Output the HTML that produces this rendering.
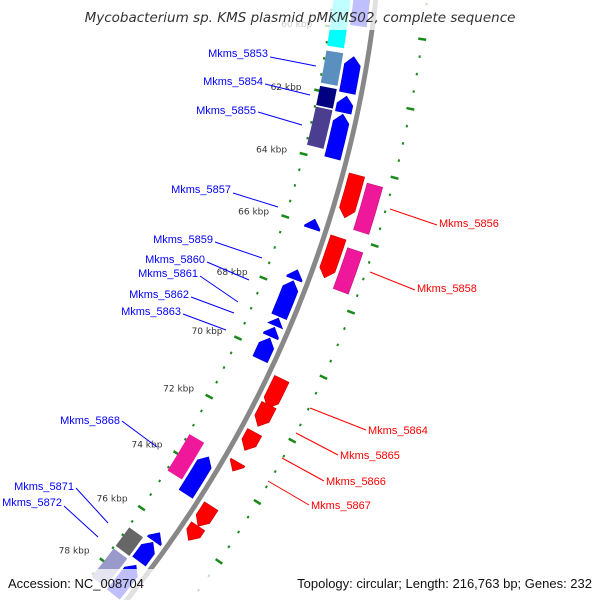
<!DOCTYPE html>
<html><head><meta charset="utf-8"><style>
html,body{margin:0;padding:0;background:#fff;overflow:hidden;}
svg{display:block;font-family:"DejaVu Sans","Liberation Sans",sans-serif;}
</style></head><body>
<svg id="map" width="600" height="600" viewBox="0 0 600 600" xmlns="http://www.w3.org/2000/svg">
<g id="layer"></g>
</svg>
<script>
// kbp-based feature data
const geneNames = ["top","Mkms_5853b","Mkms_5854","Mkms_5855","Mkms_5857","Mkms_5859","Mkms_5860","Mkms_5861","Mkms_5862","Mkms_5863","Mkms_5868","Mkms_5871","Mkms_5872","bottom"];
const innerStart = [58.3,60.8,62.0,62.55,65.8,67.4,67.75,68.95,69.25,69.6,73.6,76.3,76.65,77.5];
const innerEnd   = [59.87,61.9,62.5,63.9,66.1,67.7,68.9,69.2,69.55,70.3,74.9,76.6,77.35,78.6];
const ring2Start = [58.3,60.75,61.85,62.5,73.3,76.7,77.5];
const ring2End   = [60.6,61.75,62.45,63.7,74.6,77.4,78.6];
const ring2Color = ["#00ffff","#5a8fc0","#000080","#4b3d90","#f0189a","#666666","#9999cc"];
const redStart = [64.2,66.1,70.55,71.4,72.3,73.3,74.8,75.5];
const redEnd   = [65.5,67.35,71.5,72.1,72.9,73.6,75.5,76.0];
const pinkStart = [64.35,66.3];
const pinkEnd   = [65.75,67.55];
const tickKbp = [58,60,62,64,66,68,70,72,74,76,78];
const tickLabels = ["58 kbp","60 kbp","62 kbp","64 kbp","66 kbp","68 kbp","70 kbp","72 kbp","74 kbp","76 kbp","78 kbp"];

const CX=-785, CY=-130, R0=1168;
const NS="http://www.w3.org/2000/svg";
const layer=document.getElementById('layer');
function ang(k){return (11.3+(k-62)*1.661)*Math.PI/180;}
function pt(k,r){const a=ang(k);return [CX+r*Math.cos(a),CY+r*Math.sin(a)];}
function P(p){return p[0].toFixed(2)+" "+p[1].toFixed(2);}
function mk(tag,attrs){const e=document.createElementNS(NS,tag);for(const k in attrs)e.setAttribute(k,attrs[k]);layer.appendChild(e);return e;}
function feature(a,b,r1,r2,strand){
  const h=Math.min(0.25,b-a), m=(r1+r2)/2;
  if(strand>0){
    return "M"+P(pt(a,r2))+" A"+r2+" "+r2+" 0 0 1 "+P(pt(b-h,r2))+" L"+P(pt(b,m))+" L"+P(pt(b-h,r1))+" A"+r1+" "+r1+" 0 0 0 "+P(pt(a,r1))+"Z";
  } else if(strand<0){
    return "M"+P(pt(a,m))+" L"+P(pt(a+h,r2))+" A"+r2+" "+r2+" 0 0 1 "+P(pt(b,r2))+" L"+P(pt(b,r1))+" A"+r1+" "+r1+" 0 0 0 "+P(pt(a+h,r1))+"Z";
  }
  return "M"+P(pt(a,r2))+" A"+r2+" "+r2+" 0 0 1 "+P(pt(b,r2))+" L"+P(pt(b,r1))+" A"+r1+" "+r1+" 0 0 0 "+P(pt(a,r1))+"Z";
}
// backbone
const bb=mk('path',{d:"M"+P(pt(56,R0))+" A"+R0+" "+R0+" 0 0 1 "+P(pt(79.5,R0)),fill:"none",stroke:"#888",'stroke-width':5});


// tick rings
for(let k=56;k<=79.01;k+=0.5){
  const major=Math.abs(k-Math.round(k/2)*2)<1e-6;
  [1125,1219].forEach(r=>{
    const l=major?4:1;
    const p1=pt(k,r-l),p2=pt(k,r+l);
    const t=mk('line',{x1:p1[0],y1:p1[1],x2:p2[0],y2:p2[1],stroke:"#1a8a1a",'stroke-width':2.5});
    
    
  });
}
tickKbp.forEach((k,i)=>{
  const p=pt(k,1108);
  const t=mk('text',{x:p[0],y:p[1]+3,'text-anchor':'end','font-size':9,fill:'#333'});
  t.textContent=tickLabels[i];
  
  
});
innerStart.forEach((s,i)=>{
  const e=mk('path',{d:feature(s,innerEnd[i],R0-22,R0-6,-1),fill:"#0000ff",stroke:"#0000c8",'stroke-width':0.6});
  
  
});
ring2Start.forEach((s,i)=>{
  const e=mk('path',{d:feature(s,ring2End[i],R0-42,R0-25,0),fill:ring2Color[i]});
  
  
});
redStart.forEach((s,i)=>{
  const e=mk('path',{d:feature(s,redEnd[i],R0+6,R0+22,1),fill:"#ff0000",stroke:"#c80000",'stroke-width':0.6});
  
  
});
pinkStart.forEach((s,i)=>{
  const e=mk('path',{d:feature(s,pinkEnd[i],R0+26,R0+42,0),fill:"#f0189a",stroke:"#c0107a",'stroke-width':0.6});
  
  
});
const labText=["Mkms_5853","Mkms_5854","Mkms_5855","Mkms_5857","Mkms_5859","Mkms_5860","Mkms_5861","Mkms_5862","Mkms_5863","Mkms_5868","Mkms_5871","Mkms_5872","Mkms_5856","Mkms_5858","Mkms_5864","Mkms_5865","Mkms_5866","Mkms_5867"];
const labX=[268,263,256,231,213,205,198,189,181,120,74,62,439,417,368,340,326,311];
const labY=[57,85,114,193,243,263,277,298,315,424,490,506,227,292,434,459,485,509];
const lineA=[[270,57,316,66],[265,84,310,95],[258,112,302,125],[233,193,278,207],[215,242,262,258],[207,262,249,280],[200,276,238,302],[191,297,234,313],[183,314,226,330],[122,421,157,447],[76,488,108,523],[64,506,98,537],[437,225,390,209],[415,290,370,272],[366,430,310,408],[338,455,296,433],[324,481,282,458],[309,505,268,481]];
labText.forEach((s,i)=>{
  const red=i>=12;
  const c=red?"#ff0000":"#0000ff";
  const L=lineA[i];
  const ln=mk('line',{x1:L[0],y1:L[1],x2:L[2],y2:L[3],stroke:c,'stroke-width':1});
  
  
  const t=mk('text',{x:labX[i],y:labY[i],'text-anchor':red?'start':'end','font-size':11,fill:c,'font-family':'"Liberation Sans",sans-serif'});
  t.textContent=s;
  
  
});
const tb=mk('rect',{x:78,y:0,width:444,height:30,fill:"#fff",'fill-opacity':0.75});


const tt=mk('text',{x:300,y:22,'text-anchor':'middle','font-size':13.5,'font-style':'italic',fill:'#333'});
tt.textContent="Mycobacterium sp. KMS plasmid pMKMS02, complete sequence";


const fb=mk('rect',{x:0,y:569,width:600,height:31,fill:"#fff",'fill-opacity':0.75});


const f1=mk('text',{x:8,y:588,'font-size':13,fill:'#111','font-family':'"Liberation Sans",sans-serif'});
f1.textContent="Accession: NC_008704";


const f2=mk('text',{x:592,y:588,'text-anchor':'end','font-size':13,fill:'#111','font-family':'"Liberation Sans",sans-serif'});
f2.textContent="Topology: circular; Length: 216,763 bp; Genes: 232";


</script>
</body></html>
